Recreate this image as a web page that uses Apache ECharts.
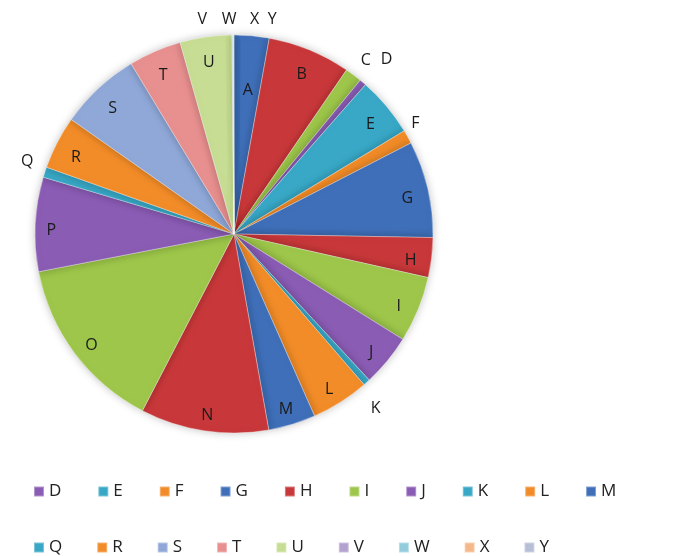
<!DOCTYPE html>
<html>
<head>
<meta charset="utf-8">
<script src="https://cdn.jsdelivr.net/npm/echarts@6/dist/echarts.min.js"></script>
<style>
  html, body { margin: 0; padding: 0; background: #fff; }
  #chart { width: 679px; height: 556px; }
</style>
</head>
<body>
<div id="chart"></div>
<script>
// categories, clockwise from 12 o'clock
var categories = ["A","B","C","D","E","F","G","H","I","J","K","L","M",
                  "N","O","P","Q","R","S","T","U","V","W","X","Y"];
// slice sizes
var values = [10.2, 24.2, 4.9, 2.0, 17.4, 4.0, 28.2, 11.6, 19.3, 15.2, 2.0, 16.9, 13.8,
              37.4, 51.6, 27.5, 3.0, 15.5, 23.7, 15.4, 15.1, 0.15, 0.15, 0.15, 0.15];
// the legend only lists these (two rows)
var legendRow1 = ["D","E","F","G","H","I","J","K","L","M"];
var legendRow2 = ["Q","R","S","T","U","V","W","X","Y"];

var palette = [
  "#3f6fb8", "#c8383a", "#9dc64a", "#8a5cb4", "#38a8c6", "#f28c28",
  "#3f6fb8", "#c8383a", "#9dc64a", "#8a5cb4", "#38a8c6", "#f28c28",
  "#3f6fb8", "#c8383a", "#9dc64a", "#8a5cb4", "#38a8c6", "#f28c28",
  "#8fa8d8", "#e8908f", "#c7dd94", "#b3a2cf", "#93cddd", "#f5b88a", "#b7bfd6"
];

// small slices get their label outside the pie
var outside = { C: [-5, -5], D: [5, -14], F: [-12, -8], K: [-9, 17], Q: [5, -7],
                V: [-20, -4], W: [9, -4], X: [31, -4], Y: [48, -4] };
var nudge = { A: [-2, 34], P: [-5, 5] };

var pieData = categories.map(function (c, i) {
  return { name: c, value: values[i] };
});
var labelData = categories.map(function (c, i) {
  var d = { name: c, value: values[i] };
  if (outside[c]) {
    d.label = { position: "outside", offset: outside[c] };
  } else if (nudge[c]) {
    d.label = { offset: nudge[c] };
  }
  return d;
});

function legendRow(names, top, gap) {
  return {
    data: names,
    left: 28,
    top: top,
    itemWidth: 10,
    itemHeight: 10,
    itemGap: gap,
    icon: "rect",
    textStyle: { fontSize: 17, color: "#222", fontFamily: "Open Sans" },
  };
}

var myChart = echarts.init(document.getElementById("chart"));
var option = {
  color: palette,
  animation: false,
  legend: [legendRow(legendRow1, 478, 36), legendRow(legendRow2, 534, 34)],
  series: [
    {
      type: "pie",
      center: [234, 234],
      radius: 199,
      startAngle: 90,
      clockwise: true,
      data: pieData,
      label: { show: false },
      labelLine: { show: false },
      itemStyle: {
        borderColor: "rgba(255,255,255,0.35)",
        borderWidth: 1,
        shadowBlur: 8,
        shadowColor: "rgba(0,0,0,0.25)",
      },
    },
    {
      // transparent ring that only carries the labels
      type: "pie",
      name: "labels",
      silent: true,
      center: [234, 234],
      radius: [151, 199],
      startAngle: 90,
      clockwise: true,
      avoidLabelOverlap: false,
      data: labelData,
      itemStyle: { color: "rgba(0,0,0,0)" },
      label: {
        show: true,
        position: "inside",
        formatter: "{b}",
        offset: [0, 5],
        fontSize: 16,
        color: "#1a1a1a",
        fontFamily: "Open Sans",
      },
      labelLine: { show: false, length: 12, length2: 0 },
    },
  ],
};
myChart.setOption(option, true);
</script>
</body>
</html>
